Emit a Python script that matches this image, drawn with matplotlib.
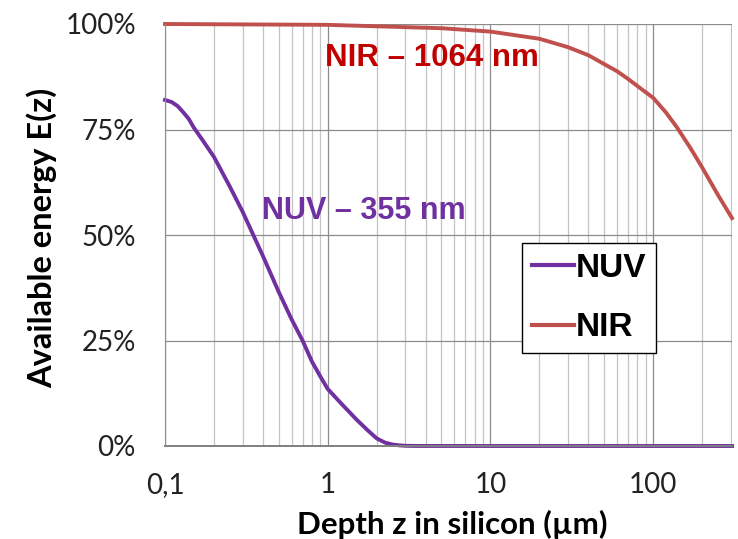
import numpy as np
import matplotlib.pyplot as plt
from matplotlib.ticker import FixedLocator, NullFormatter, FuncFormatter

# depth in silicon (um) and available energy (fraction)
depth_nuv = [0.1, 0.11, 0.12, 0.13, 0.14, 0.15, 0.17, 0.2, 0.25, 0.3, 0.4, 0.5, 0.6, 0.7,
             0.8, 0.9, 1.0, 1.25, 1.5, 1.75, 2.0, 2.25, 2.5, 2.75, 3.0, 3.5, 10, 100, 305]
energy_nuv = [0.82, 0.815, 0.805, 0.79, 0.775, 0.755, 0.725, 0.685, 0.615, 0.555, 0.45, 0.365,
              0.30, 0.25, 0.20, 0.165, 0.135, 0.095, 0.063, 0.038, 0.018, 0.008, 0.0035,
              0.0015, 0.0005, 0.0001, 0.0, 0.0, 0.0]

depth_nir = [0.1, 1, 5, 10, 20, 30, 40, 50, 60, 70, 80, 100, 120, 140, 170, 200, 250, 305]
energy_nir = [1.0, 0.998, 0.99, 0.982, 0.965, 0.945, 0.926, 0.905, 0.888, 0.87, 0.853, 0.825,
              0.79, 0.755, 0.705, 0.66, 0.595, 0.54]

x_ticks = [0.1, 1, 10, 100]
x_tick_labels = ['0,1', '1', '10', '100']
y_ticks = [0, 0.25, 0.5, 0.75, 1.0]

nuv_color = '#7030A0'
nir_color = '#C0504D'

fig = plt.figure(figsize=(7.38, 5.39), dpi=100)
ax = fig.add_axes([165 / 738, 93 / 539, 567 / 738, 422 / 539])

ax.set_xscale('log')
ax.set_xlim(0.1, 305)
ax.set_ylim(0, 1.0)

# grid: minor light, major darker
ax.xaxis.set_major_locator(FixedLocator(x_ticks))
ax.xaxis.set_minor_locator(FixedLocator([m * 10.0 ** e for e in (-1, 0, 1, 2) for m in range(2, 10)
                                         if m * 10.0 ** e <= 305]))
ax.xaxis.set_minor_formatter(NullFormatter())
ax.xaxis.set_major_formatter(FuncFormatter(lambda v, p: x_tick_labels[x_ticks.index(v)] if v in x_ticks else ''))
ax.set_yticks(y_ticks)
ax.yaxis.set_major_formatter(FuncFormatter(lambda v, p: f'{v * 100:.0f}%'))

ax.grid(True, which='major', color='#8c8c8c', linewidth=0.9)
ax.grid(True, which='minor', axis='x', color='#c4c4c4', linewidth=0.9)
ax.set_axisbelow(True)

for side in ['top', 'right']:
    ax.spines[side].set_visible(False)
ax.spines['left'].set_color('#8c8c8c')
ax.spines['bottom'].set_color('#7f7f7f')
ax.spines['bottom'].set_linewidth(1.4)

ax.tick_params(which='both', length=0)
ax.tick_params(axis='x', pad=19, labelsize=20)
ax.tick_params(axis='y', pad=21, labelsize=20)
for lab in ax.get_xticklabels() + ax.get_yticklabels():
    lab.set_fontfamily('Lato')
    lab.set_color('#222222')

ax.plot(depth_nuv, energy_nuv, color=nuv_color, linewidth=2.8, label='NUV', clip_on=False)
ax.plot(depth_nir, energy_nir, color=nir_color, linewidth=2.8, label='NIR', clip_on=False)

ax.text(0.96, 0.919, 'NIR – 1064 nm', color='#C00000', fontsize=22.5, fontweight='bold',
        family='Liberation Sans', va='center', ha='left')
ax.text(0.395, 0.557, 'NUV – 355 nm', color=nuv_color, fontsize=22, fontweight='bold',
        family='Liberation Sans', va='center', ha='left')

leg = ax.legend(loc='upper left', bbox_to_anchor=(0.63, 0.481), borderaxespad=0,
                prop={'family': 'Liberation Sans', 'weight': 'bold', 'size': 24},
                handlelength=1.25, handletextpad=0.05, labelspacing=0.85,
                fancybox=False, framealpha=1, borderpad=0.3)
leg.get_frame().set_edgecolor('black')
leg.get_frame().set_linewidth(1.0)
for line in leg.get_lines():
    line.set_linewidth(3.0)

fig.text(42 / 738, 1 - 238 / 539, 'Available energy E(z)', rotation=90, ha='center', va='center',
         fontsize=23.5, fontweight='bold', family='Lato')
fig.text(452 / 738, 1 - 524 / 539, 'Depth z in silicon (µm)', ha='center', va='center',
         fontsize=22.5, fontweight='bold', family='Lato')

fig.savefig('out.png', dpi=100)
